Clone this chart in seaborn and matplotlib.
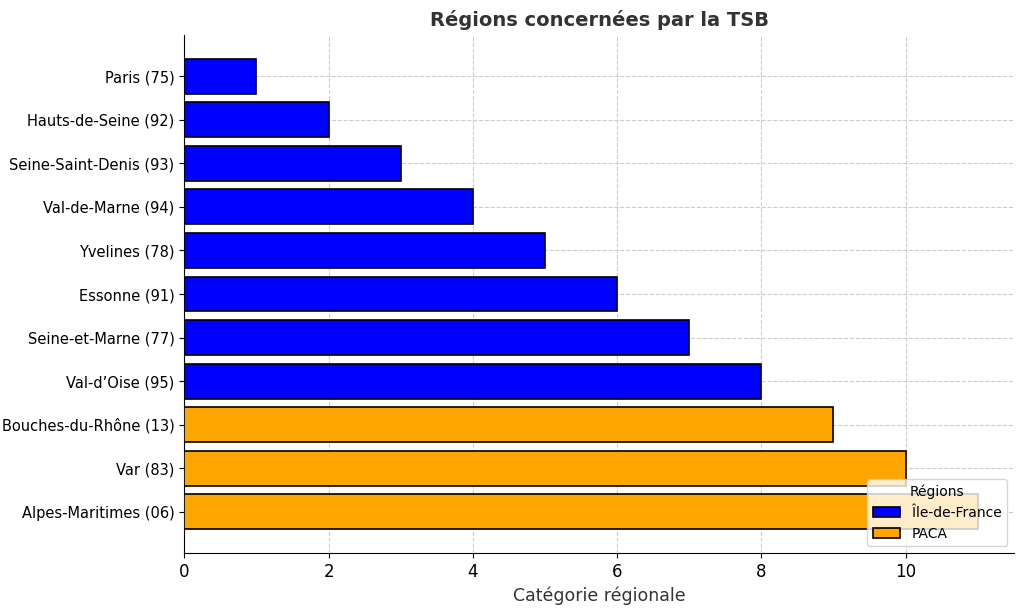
import pandas as pd
import matplotlib.pyplot as plt
import seaborn as sns

departements = [
    "Paris (75)", "Hauts-de-Seine (92)", "Seine-Saint-Denis (93)", "Val-de-Marne (94)",
    "Yvelines (78)", "Essonne (91)", "Seine-et-Marne (77)", "Val-d’Oise (95)",
    "Bouches-du-Rhône (13)", "Var (83)", "Alpes-Maritimes (06)",
]
valeurs = [1, 2, 3, 4, 5, 6, 7, 8, 9, 10, 11]
regions = ["Île-de-France"] * 8 + ["PACA"] * 3

df = pd.DataFrame({"dep": departements, "val": valeurs, "region": regions})

fig, ax = plt.subplots(figsize=(10.24, 6.1), dpi=100)
sns.barplot(data=df, x="val", y="dep", hue="region", dodge=False, width=0.8,
            palette={"Île-de-France": "#0000ff", "PACA": "#ffa500"}, saturation=1,
            edgecolor="black", linewidth=1.2, ax=ax, zorder=3)
ax.grid(True, linestyle="--", color="#cccccc", linewidth=0.8, zorder=0)
ax.set_axisbelow(True)
ax.set_xlim(0, 11.5)
ax.set_ylim(10.95, -0.95)
ax.set_xlabel("Catégorie régionale", fontsize=12.5, color="#333333")
ax.set_ylabel("")
ax.set_title("Régions concernées par la TSB", fontsize=14, fontweight="bold", color="#333333")
ax.tick_params(axis="x", labelsize=12)
ax.tick_params(axis="y", labelsize=10.5)
for s in ["top", "right"]:
    ax.spines[s].set_visible(False)
ax.legend(title="Régions", loc="lower right", fontsize=10, title_fontsize=10)
fig.subplots_adjust(left=0.18, right=0.99, top=0.943, bottom=0.093)
fig.savefig("out.png")
